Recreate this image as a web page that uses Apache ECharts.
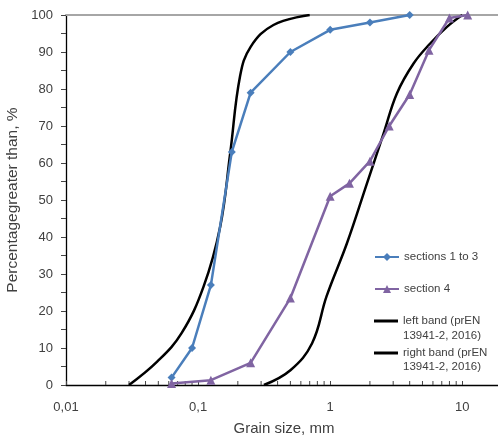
<!DOCTYPE html>
<html>
<head>
<meta charset="utf-8">
<script src="https://cdn.jsdelivr.net/npm/echarts@6/dist/echarts.min.js"></script>
<style>html,body{margin:0;padding:0;background:#fff}#c{width:498px;height:437px}</style>
</head>
<body>
<div id="c"></div>
<script>
// Grain size (mm), percentage greater than (%)
const sections13Size = [0.063, 0.09, 0.125, 0.18, 0.25, 0.5, 1, 2, 4];
const sections13Pct  = [2, 10, 27, 63, 79, 90, 96, 98, 100];

const section4Size = [0.063, 0.125, 0.25, 0.5, 1, 1.4, 2, 2.8, 4, 5.6, 8, 11];
const section4Pct  = [0.4, 1.3, 6, 23.5, 51, 54.5, 60.5, 70, 78.5, 90.5, 99.2, 100];

const leftBandSize = [0.03, 0.049, 0.075, 0.11, 0.147, 0.175, 0.208, 0.25, 0.372, 0.7];
const leftBandPct  = [0, 6.3, 14, 26.6, 42.8, 62.6, 83.5, 91.4, 97.3, 100];

const rightBandSize = [0.315, 0.5, 0.73, 0.94, 1.34, 1.9, 2.54, 3.2, 4.28, 5.72, 7.66, 10];
const rightBandPct  = [0, 4, 11.3, 24, 38.3, 54.5, 68, 78.8, 86.9, 92.3, 96.8, 100];

const xMinorTicks = [0.02,0.03,0.04,0.05,0.06,0.07,0.08,0.09,
                     0.2,0.3,0.4,0.5,0.6,0.7,0.8,0.9,
                     2,3,4,5,6,7,8,9];

const names = ['sections 1 to 3', 'section 4', 'left band (prEN 13941-2, 2016)', 'right band (prEN 13941-2, 2016)'];
const legendFirstLine = {
  'left band (prEN 13941-2, 2016)': 'left band (prEN',
  'right band (prEN 13941-2, 2016)': 'right band (prEN'
};
const legendSecondLine = '13941-2, 2016)';

const zip = (a, b) => a.map((v, i) => [v, b[i]]);
const FONT = 'Liberation Sans';
const TXT = '#404040';
const LINE_ICON = 'path://M0,0H24V3H0Z';

const chart = echarts.init(document.getElementById('c'), null, {renderer: 'canvas'});

function legendAt(name, top, icon) {
  const item = {name: name};
  if (icon) item.icon = icon;
  return {
    show: true,
    left: 374,
    top: top,
    orient: 'vertical',
    itemWidth: 24,
    itemHeight: 10,
    padding: 0,
    data: [item],
    formatter: n => legendFirstLine[n] || n,
    textStyle: {fontFamily: FONT, fontSize: 11.5, color: TXT}
  };
}

chart.setOption({
  animation: false,
  backgroundColor: '#fff',
  grid: {left: 66, top: 15, right: -4, bottom: 52, containLabel: false, outerBoundsMode: 'none'},
  legend: [
    legendAt(names[0], 256 - 5),
    legendAt(names[1], 288 - 5),
    legendAt(names[2], 320 - 5, LINE_ICON),
    legendAt(names[3], 352 - 5, LINE_ICON)
  ],
  graphic: [{
    type: 'text', left: 403, top: 330,
    style: {text: legendSecondLine, fontFamily: FONT, fontSize: 11.5, fill: TXT}
  }, {
    type: 'text', left: 403, top: 361,
    style: {text: legendSecondLine, fontFamily: FONT, fontSize: 11.5, fill: TXT}
  }],
  xAxis: [{
    type: 'log',
    logBase: 10,
    min: 0.01,
    max: 20,
    name: 'Grain size, mm',
    nameLocation: 'middle',
    nameGap: 36,
    nameTextStyle: {fontFamily: FONT, fontSize: 15, color: TXT},
    axisLine: {lineStyle: {color: '#000', width: 1.3}},
    axisTick: {show: true, inside: true, length: 4, lineStyle: {color: '#444'}},
    axisLabel: {
      fontFamily: FONT, fontSize: 13, color: TXT, margin: 16,
      showMaxLabel: false,
      formatter: v => String(+v.toPrecision(6)).replace('.', ',')
    },
    splitLine: {show: false}
  }, {
    type: 'log',
    logBase: 10,
    min: 0.01,
    max: 20,
    position: 'top',
    axisLine: {lineStyle: {color: '#a6a6a6', width: 2}},
    axisTick: {show: false},
    axisLabel: {show: false},
    splitLine: {show: false}
  }],
  yAxis: {
    type: 'value',
    min: 0,
    max: 100,
    interval: 5,
    name: 'Percentagegreater than, %',
    nameLocation: 'middle',
    nameGap: 35,
    nameTextStyle: {fontFamily: FONT, fontSize: 15.5, color: TXT},
    axisLine: {show: true, lineStyle: {color: '#000', width: 1.3}},
    axisTick: {show: true, length: 5, lineStyle: {color: '#444'}},
    axisLabel: {
      fontFamily: FONT, fontSize: 13, color: TXT, margin: 13,
      formatter: v => (v % 10 === 0 ? String(v) : '')
    },
    splitLine: {show: false}
  },
  series: [{
    name: names[0],
    type: 'line',
    data: zip(sections13Size, sections13Pct),
    symbol: 'diamond',
    symbolSize: 8,
    lineStyle: {color: '#4a7ebb', width: 2.5},
    itemStyle: {color: '#4a7ebb'},
    clip: false,
    z: 4
  }, {
    name: names[1],
    type: 'line',
    data: zip(section4Size, section4Pct),
    symbol: 'triangle',
    symbolSize: 9,
    lineStyle: {color: '#8064a2', width: 2.5},
    itemStyle: {color: '#8064a2'},
    clip: false,
    z: 4
  }, {
    name: names[2],
    type: 'line',
    data: zip(leftBandSize, leftBandPct),
    symbol: 'none',
    smooth: 0.4,
    lineStyle: {color: '#000', width: 2.5},
    itemStyle: {color: '#000'},
    z: 3
  }, {
    name: names[3],
    type: 'line',
    data: zip(rightBandSize, rightBandPct),
    symbol: 'none',
    smooth: 0.4,
    lineStyle: {color: '#000', width: 2.5},
    itemStyle: {color: '#000'},
    z: 3
  }, {
    type: 'custom',
    silent: true,
    data: xMinorTicks.map(v => [v, 0]),
    renderItem: (params, api) => {
      const p = api.coord([api.value(0), 0]);
      return {
        type: 'line',
        shape: {x1: p[0], y1: p[1], x2: p[0], y2: p[1] - 4},
        style: {stroke: '#444', lineWidth: 1}
      };
    },
    z: 2
  }]
});
</script>
</body>
</html>
